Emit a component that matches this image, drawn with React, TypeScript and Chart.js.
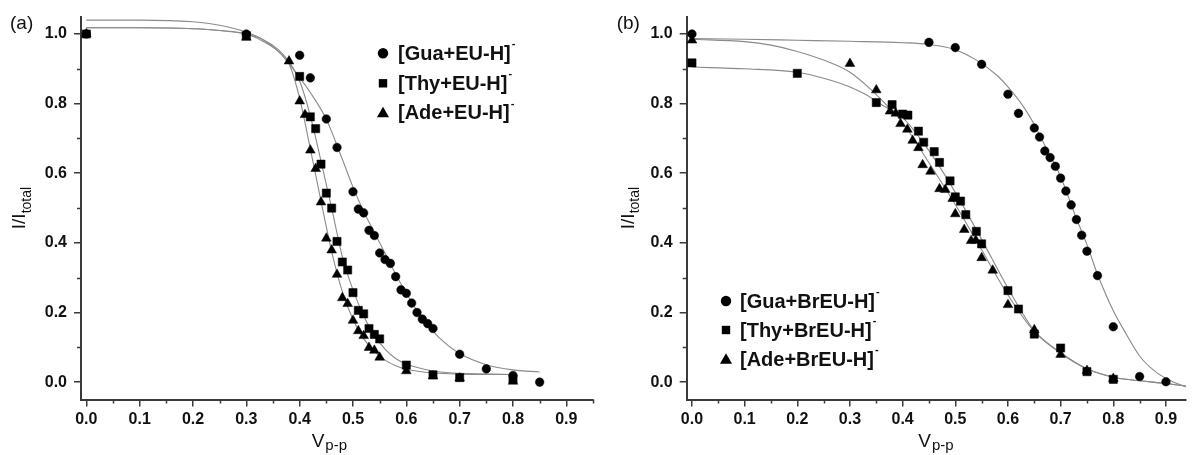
import React, { useEffect, useRef } from 'react';
import { Chart, registerables } from 'chart.js';

Chart.register(...registerables);

// ---------- axis ticks ----------
const X_TICKS = [0, 0.1, 0.2, 0.3, 0.4, 0.5, 0.6, 0.7, 0.8, 0.9];
const X_TICK_LABELS = ['0.0', '0.1', '0.2', '0.3', '0.4', '0.5', '0.6', '0.7', '0.8', '0.9'];
const X_MINOR = [0.05, 0.15, 0.25, 0.35, 0.45, 0.55, 0.65, 0.75, 0.85, 0.95];
const Y_TICKS = [0, 0.2, 0.4, 0.6, 0.8, 1.0];
const Y_TICK_LABELS = ['0.0', '0.2', '0.4', '0.6', '0.8', '1.0'];
const Y_MINOR = [0.1, 0.3, 0.5, 0.7, 0.9];

// ---------- panel (a) : measured points ----------
const A_LABELS = ['[Gua+EU-H]', '[Thy+EU-H]', '[Ade+EU-H]'];
const A_GUA_X = [0, 0.30, 0.40, 0.42, 0.45, 0.47, 0.50, 0.51, 0.52, 0.53, 0.54, 0.55, 0.56, 0.57, 0.58, 0.59, 0.60, 0.61, 0.62, 0.63, 0.64, 0.65, 0.70, 0.75, 0.80, 0.85];
const A_GUA_Y = [1.0, 1.0, 0.939, 0.874, 0.756, 0.674, 0.547, 0.497, 0.486, 0.436, 0.421, 0.371, 0.352, 0.341, 0.303, 0.265, 0.255, 0.227, 0.200, 0.181, 0.168, 0.154, 0.080, 0.038, 0.019, 0.0];
const A_THY_X = [0, 0.30, 0.40, 0.42, 0.43, 0.44, 0.45, 0.46, 0.47, 0.48, 0.49, 0.50, 0.51, 0.52, 0.53, 0.54, 0.55, 0.60, 0.65, 0.70, 0.80];
const A_THY_Y = [1.0, 0.995, 0.878, 0.762, 0.728, 0.626, 0.543, 0.50, 0.404, 0.345, 0.322, 0.257, 0.206, 0.196, 0.154, 0.137, 0.124, 0.049, 0.021, 0.013, 0.009];
const A_ADE_X = [0, 0.30, 0.38, 0.40, 0.41, 0.42, 0.43, 0.44, 0.45, 0.46, 0.47, 0.48, 0.49, 0.50, 0.51, 0.52, 0.53, 0.54, 0.55, 0.60, 0.65, 0.70, 0.80];
const A_ADE_Y = [1.0, 0.99, 0.922, 0.807, 0.768, 0.666, 0.613, 0.517, 0.413, 0.379, 0.309, 0.242, 0.225, 0.177, 0.147, 0.133, 0.099, 0.091, 0.071, 0.032, 0.017, 0.011, 0.002];

// ---------- panel (a) : fitted curves ----------
const A_GUA_FIT_X = [0, 0.1, 0.2, 0.25, 0.3, 0.33, 0.36, 0.39, 0.42, 0.45, 0.48, 0.50, 0.52, 0.54, 0.56, 0.58, 0.60, 0.62, 0.64, 0.66, 0.70, 0.75, 0.80, 0.85];
const A_GUA_FIT_Y = [1.04, 1.04, 1.035, 1.025, 1.005, 0.985, 0.95, 0.895, 0.832, 0.755, 0.64, 0.56, 0.49, 0.43, 0.37, 0.31, 0.255, 0.205, 0.165, 0.13, 0.082, 0.05, 0.035, 0.029];
const A_THY_FIT_X = [0, 0.1, 0.2, 0.25, 0.3, 0.33, 0.36, 0.38, 0.40, 0.42, 0.44, 0.46, 0.48, 0.50, 0.52, 0.54, 0.56, 0.58, 0.60, 0.65, 0.70, 0.80];
const A_THY_FIT_Y = [1.018, 1.018, 1.015, 1.01, 1.0, 0.985, 0.955, 0.92, 0.865, 0.765, 0.635, 0.50, 0.36, 0.265, 0.19, 0.135, 0.095, 0.068, 0.052, 0.032, 0.025, 0.022];
const A_ADE_FIT_X = [0, 0.1, 0.2, 0.25, 0.3, 0.33, 0.36, 0.38, 0.40, 0.42, 0.44, 0.46, 0.48, 0.50, 0.52, 0.54, 0.56, 0.58, 0.60, 0.65, 0.70, 0.80];
const A_ADE_FIT_Y = [1.018, 1.018, 1.015, 1.01, 1.0, 0.98, 0.95, 0.915, 0.815, 0.67, 0.52, 0.375, 0.26, 0.18, 0.125, 0.088, 0.063, 0.047, 0.037, 0.026, 0.023, 0.022];

// ---------- panel (b) : measured points ----------
const B_LABELS = ['[Gua+BrEU-H]', '[Thy+BrEU-H]', '[Ade+BrEU-H]'];
const B_GUA_X = [0, 0.45, 0.50, 0.55, 0.60, 0.62, 0.65, 0.66, 0.67, 0.68, 0.69, 0.70, 0.71, 0.72, 0.73, 0.74, 0.75, 0.77, 0.80, 0.85, 0.90];
const B_GUA_Y = [1.0, 0.976, 0.961, 0.913, 0.827, 0.772, 0.730, 0.704, 0.664, 0.645, 0.620, 0.586, 0.549, 0.509, 0.467, 0.422, 0.376, 0.306, 0.159, 0.016, 0.001];
const B_THY_X = [0, 0.20, 0.35, 0.38, 0.40, 0.41, 0.43, 0.44, 0.46, 0.47, 0.49, 0.50, 0.51, 0.52, 0.54, 0.55, 0.60, 0.62, 0.65, 0.70, 0.75, 0.80];
const B_THY_Y = [0.917, 0.887, 0.803, 0.797, 0.770, 0.767, 0.721, 0.689, 0.662, 0.631, 0.578, 0.532, 0.520, 0.481, 0.433, 0.397, 0.263, 0.210, 0.138, 0.098, 0.030, 0.008];
const B_ADE_X = [0, 0.30, 0.35, 0.376, 0.387, 0.396, 0.409, 0.419, 0.430, 0.438, 0.453, 0.470, 0.481, 0.495, 0.50, 0.517, 0.53, 0.539, 0.55, 0.571, 0.60, 0.65, 0.70, 0.75, 0.80];
const B_ADE_Y = [0.982, 0.915, 0.839, 0.778, 0.772, 0.742, 0.726, 0.694, 0.673, 0.624, 0.605, 0.555, 0.553, 0.527, 0.483, 0.438, 0.406, 0.407, 0.357, 0.321, 0.222, 0.150, 0.079, 0.033, 0.010];

// ---------- panel (b) : fitted curves ----------
const B_GUA_FIT_X = [0, 0.1, 0.2, 0.3, 0.4, 0.45, 0.5, 0.54, 0.58, 0.6, 0.63, 0.65, 0.67, 0.7, 0.73, 0.75, 0.77, 0.8, 0.82, 0.85, 0.88, 0.91, 0.94];
const B_GUA_FIT_Y = [0.987, 0.985, 0.982, 0.979, 0.975, 0.97, 0.955, 0.925, 0.88, 0.848, 0.79, 0.74, 0.68, 0.59, 0.47, 0.395, 0.31, 0.205, 0.15, 0.075, 0.03, 0.003, -0.015];
const B_THY_FIT_X = [0, 0.1, 0.2, 0.25, 0.3, 0.33, 0.36, 0.4, 0.45, 0.5, 0.55, 0.6, 0.65, 0.7, 0.75, 0.8, 0.85, 0.9, 0.94];
const B_THY_FIT_Y = [0.905, 0.9, 0.89, 0.873, 0.848, 0.826, 0.797, 0.76, 0.665, 0.545, 0.41, 0.27, 0.148, 0.085, 0.038, 0.014, 0.004, -0.004, -0.012];
const B_ADE_FIT_X = [0, 0.1, 0.15, 0.2, 0.25, 0.3, 0.34, 0.37, 0.4, 0.45, 0.5, 0.55, 0.6, 0.65, 0.7, 0.75, 0.8, 0.85, 0.9, 0.94];
const B_ADE_FIT_Y = [0.985, 0.978, 0.968, 0.95, 0.925, 0.89, 0.84, 0.795, 0.745, 0.63, 0.51, 0.38, 0.25, 0.145, 0.083, 0.038, 0.014, 0.004, -0.004, -0.012];

// ---------- styling ----------
const AXIS = '#3a3a3a';
const MARK = '#000000';
const CURVE = '#8a8a8a';
const FONT = '"Liberation Sans", Arial, Helvetica, sans-serif';
const STYLES = ['circle', 'rect', 'triangle'];
const RADII = [4.3, 5.8, 5.6];

const zip = (xs: number[], ys: number[]) => xs.map((x, i) => ({ x, y: ys[i] }));

type PanelCfg = {
  width: number;
  xMax: number;
  padRight: number;
  yAxisW: number;
  panel: string;
  panelX: number;
  yTitleX: number;
  xTitleX: number;
  legendMarkerX: number;
  legendTextX: number;
  legendRows: number[];
  labels: string[];
  points: { x: number; y: number }[][];
  fits: { x: number; y: number }[][];
};

const PANELS: PanelCfg[] = [
  {
    width: 600, xMax: 0.95, padRight: 7, yAxisW: 81,
    panel: '(a)', panelX: 10, yTitleX: 19.7, xTitleX: 311.7,
    legendMarkerX: 383, legendTextX: 398, legendRows: [53.3, 83.3, 112.7],
    labels: A_LABELS,
    points: [zip(A_GUA_X, A_GUA_Y), zip(A_THY_X, A_THY_Y), zip(A_ADE_X, A_ADE_Y)],
    fits: [zip(A_GUA_FIT_X, A_GUA_FIT_Y), zip(A_THY_FIT_X, A_THY_FIT_Y), zip(A_ADE_FIT_X, A_ADE_FIT_Y)],
  },
  {
    width: 592, xMax: 0.9375, padRight: 0, yAxisW: 86.7,
    panel: '(b)', panelX: 16.7, yTitleX: 28.5, xTitleX: 318.3,
    legendMarkerX: 126, legendTextX: 140, legendRows: [301, 330, 359.3],
    labels: B_LABELS,
    points: [zip(B_GUA_X, B_GUA_Y), zip(B_THY_X, B_THY_Y), zip(B_ADE_X, B_ADE_Y)],
    fits: [zip(B_GUA_FIT_X, B_GUA_FIT_Y), zip(B_THY_FIT_X, B_THY_FIT_Y), zip(B_ADE_FIT_X, B_ADE_FIT_Y)],
  },
];

function drawMarker(ctx: CanvasRenderingContext2D, style: string, x: number, y: number, s: number) {
  ctx.beginPath();
  if (style === 'circle') {
    ctx.arc(x, y, s, 0, Math.PI * 2);
  } else if (style === 'rect') {
    ctx.rect(x - s, y - s, 2 * s, 2 * s);
  } else {
    ctx.moveTo(x, y - s);
    ctx.lineTo(x + s * 0.866, y + s * 0.5);
    ctx.lineTo(x - s * 0.866, y + s * 0.5);
    ctx.closePath();
  }
  ctx.fill();
}

function makeDecor(cfg: PanelCfg) {
  return {
    id: 'decor',
    afterDraw(chart: any) {
      const ctx: CanvasRenderingContext2D = chart.ctx;
      const xs = chart.scales.x;
      const ys = chart.scales.y;
      ctx.save();
      // minor ticks
      ctx.strokeStyle = AXIS;
      ctx.lineWidth = 1.5;
      X_MINOR.forEach((v) => {
        if (v > xs.max + 1e-9) return;
        const px = Math.round(xs.getPixelForValue(v)) + 0.5;
        ctx.beginPath();
        ctx.moveTo(px, ys.bottom);
        ctx.lineTo(px, ys.bottom + 4);
        ctx.stroke();
      });
      Y_MINOR.forEach((v) => {
        const py = Math.round(ys.getPixelForValue(v)) + 0.5;
        ctx.beginPath();
        ctx.moveTo(xs.left, py);
        ctx.lineTo(xs.left - 4, py);
        ctx.stroke();
      });
      ctx.fillStyle = '#111';
      // panel label
      ctx.font = `19px ${FONT}`;
      ctx.textAlign = 'left';
      ctx.textBaseline = 'alphabetic';
      ctx.fillText(cfg.panel, cfg.panelX, 29);
      // y title  I/I_total
      const yc = (ys.top + ys.bottom) / 2;
      ctx.save();
      ctx.translate(cfg.yTitleX, yc);
      ctx.rotate(-Math.PI / 2);
      ctx.font = `19px ${FONT}`;
      const mainW = ctx.measureText('I/I').width;
      ctx.font = `14px ${FONT}`;
      const subW = ctx.measureText('total').width;
      const total = mainW + subW;
      ctx.font = `19px ${FONT}`;
      ctx.textBaseline = 'middle';
      ctx.fillText('I/I', -total / 2, 0);
      ctx.font = `14px ${FONT}`;
      ctx.fillText('total', -total / 2 + mainW, 7);
      ctx.restore();
      // x title  V_p-p
      ctx.font = `19px ${FONT}`;
      ctx.textBaseline = 'alphabetic';
      ctx.fillText('V', cfg.xTitleX, 447);
      const vW = ctx.measureText('V').width;
      ctx.font = `15px ${FONT}`;
      ctx.fillText('p-p', cfg.xTitleX + vW + 1, 450);
      // legend
      cfg.labels.forEach((lab, i) => {
        const y = cfg.legendRows[i];
        ctx.fillStyle = MARK;
        const sz = i === 0 ? 5.2 : i === 1 ? 4.2 : 7;
        drawMarker(ctx, STYLES[i], cfg.legendMarkerX, y + (i === 2 ? 1 : 0), sz);
        ctx.fillStyle = '#111';
        ctx.font = `bold 20px ${FONT}`;
        ctx.textBaseline = 'middle';
        ctx.fillText(lab, cfg.legendTextX, y + 1);
        const w = ctx.measureText(lab).width;
        ctx.font = `bold 11px ${FONT}`;
        ctx.fillText('-', cfg.legendTextX + w + 1, y - 9);
      });
      ctx.restore();
    },
  };
}

function Panel({ cfg }: { cfg: PanelCfg }) {
  const ref = useRef<HTMLCanvasElement>(null);
  useEffect(() => {
    if (!ref.current) return;
    const tickFont = { family: FONT, size: 16, weight: 'bold' as const };
    const datasets: any[] = [];
    cfg.points.forEach((pts, i) => {
      datasets.push({
        label: cfg.labels[i],
        data: pts,
        showLine: false,
        pointStyle: STYLES[i],
        pointRadius: RADII[i],
        pointBackgroundColor: MARK,
        pointBorderColor: MARK,
        pointBorderWidth: 0.5,
        order: 0,
      });
    });
    cfg.fits.forEach((pts, i) => {
      datasets.push({
        label: cfg.labels[i] + ' fit',
        data: pts,
        showLine: true,
        pointRadius: 0,
        borderColor: CURVE,
        borderWidth: 1.1,
        cubicInterpolationMode: 'monotone',
        fill: false,
        order: 1,
      });
    });
    const chart = new Chart(ref.current, {
      type: 'scatter',
      data: { datasets },
      options: {
        responsive: false,
        animation: false,
        devicePixelRatio: 1,
        layout: { padding: { left: 0, top: 14.5, right: cfg.padRight, bottom: 0 } },
        plugins: { legend: { display: false }, tooltip: { enabled: false } },
        scales: {
          x: {
            type: 'linear',
            min: -0.01,
            max: cfg.xMax,
            afterBuildTicks: (s: any) => { s.ticks = X_TICKS.map((v) => ({ value: v })); },
            afterFit: (s: any) => { s.height = 55.5; },
            ticks: {
              callback: (_v: any, i: number) => X_TICK_LABELS[i],
              font: tickFont, color: '#111', padding: 3, maxRotation: 0, autoSkip: false,
            },
            grid: { display: true, drawOnChartArea: false, drawTicks: true, tickLength: 7, color: AXIS, lineWidth: 1.5 },
            border: { display: true, color: AXIS, width: 2 },
          },
          y: {
            type: 'linear',
            min: -0.05,
            max: 1.05,
            afterBuildTicks: (s: any) => { s.ticks = Y_TICKS.map((v) => ({ value: v })); },
            afterFit: (s: any) => { s.width = cfg.yAxisW; },
            ticks: {
              callback: (_v: any, i: number) => Y_TICK_LABELS[i],
              font: tickFont, color: '#111', padding: 7, autoSkip: false,
            },
            grid: { display: true, drawOnChartArea: false, drawTicks: true, tickLength: 7, color: AXIS, lineWidth: 1.5 },
            border: { display: true, color: AXIS, width: 2 },
          },
        },
      } as any,
      plugins: [makeDecor(cfg)],
    });
    return () => chart.destroy();
  }, [cfg]);
  return (
    <canvas
      ref={ref}
      width={cfg.width}
      height={455}
      style={{ display: 'block', width: cfg.width, height: 455 }}
    />
  );
}

export default function App() {
  useEffect(() => {
    document.body.style.margin = '0';
    document.body.style.background = '#fff';
  }, []);
  return (
    <div style={{ display: 'flex', width: 1192, height: 455, overflow: 'hidden', background: '#fff' }}>
      {PANELS.map((p) => (
        <Panel key={p.panel} cfg={p} />
      ))}
    </div>
  );
}
